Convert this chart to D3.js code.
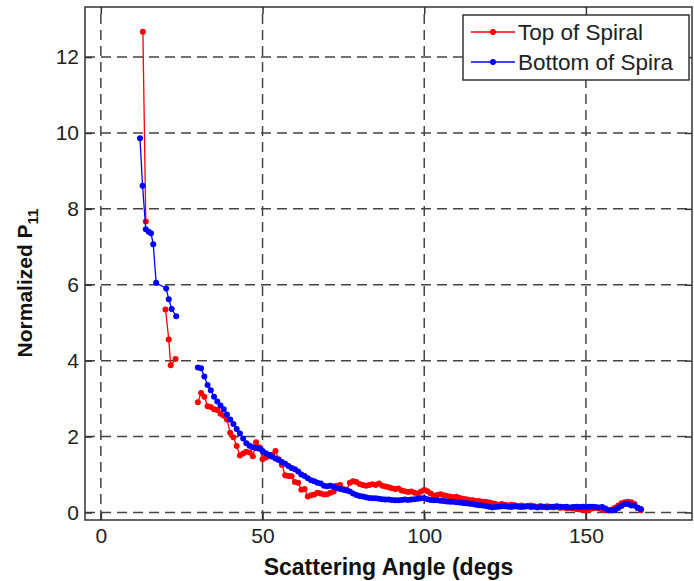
<!DOCTYPE html>
<html>
<head>
<meta charset="utf-8">
<script src="https://cdn.jsdelivr.net/npm/d3@7"></script>
<style>
  html, body { margin: 0; padding: 0; background: #fff; }
  svg { display: block; font-family: "Liberation Sans", Arial, Helvetica, sans-serif; }
</style>
</head>
<body>
<svg id="chart" width="694" height="581"></svg>
<script>
// Normalized P11 phase function versus scattering angle, two positions on the spiral.

// Sparse forward-angle samples (null breaks the line)
const topEarlyAngles    = [13.0, 13.9, null, 20.0, 21.0, 21.6, 23.1, null];
const topEarlyValues    = [12.67, 7.67, null, 5.35, 4.56, 3.88, 4.04, null];
const bottomEarlyAngles = [12.1, 12.9, 13.9, 14.8, 15.5, 16.2, 17.1, 20.2, 21.0, 21.9, 23.3, null];
const bottomEarlyValues = [9.86, 8.61, 7.46, 7.40, 7.36, 7.07, 6.05, 5.90, 5.62, 5.36, 5.17, null];

// Regular 1-degree samples from 30 to 167 degrees
const mainAngles = d3.range(30, 168);
const topValues = [
  2.90, 3.15, 3.05, 2.80, 2.78, 2.72, 2.70, 2.60, 2.55, 2.45,
  2.10, 1.98, 1.75, 1.50, 1.55, 1.60, 1.58, 1.48, 1.85, 1.72,
  1.40, 1.45, 1.48, 1.52, 1.62, 1.40, 1.25, 0.98, 0.96, 0.95,
  0.80, 0.78, 0.60, 0.62, 0.42, 0.45, 0.47, 0.52, 0.50, 0.47,
  0.48, 0.52, 0.55, 0.70, 0.72, 0.62, 0.60, 0.78, 0.82, 0.80,
  0.75, 0.72, 0.70, 0.72, 0.74, 0.72, 0.76, 0.70, 0.68, 0.66,
  0.64, 0.62, 0.63, 0.58, 0.56, 0.54, 0.55, 0.52, 0.50, 0.55,
  0.59, 0.56, 0.50, 0.44, 0.46, 0.48, 0.45, 0.43, 0.42, 0.40,
  0.41, 0.38, 0.36, 0.35, 0.33, 0.32, 0.30, 0.30, 0.28, 0.28,
  0.26, 0.24, 0.22, 0.20, 0.22, 0.20, 0.18, 0.20, 0.19, 0.17,
  0.18, 0.16, 0.17, 0.18, 0.16, 0.15, 0.17, 0.14, 0.16, 0.15,
  0.13, 0.14, 0.12, 0.13, 0.11, 0.12, 0.10, 0.09, 0.08, 0.07,
  0.05, 0.08, 0.10, 0.12, 0.10, 0.08, 0.06, 0.05, 0.08, 0.12,
  0.18, 0.24, 0.27, 0.28, 0.27, 0.22, 0.12, 0.06
];
const bottomValues = [
  3.82, 3.80, 3.58, 3.36, 3.22, 3.05, 2.92, 2.82, 2.72, 2.58,
  2.45, 2.33, 2.20, 2.08, 1.95, 1.82, 1.76, 1.72, 1.70, 1.68,
  1.62, 1.56, 1.52, 1.47, 1.42, 1.38, 1.33, 1.28, 1.22, 1.17,
  1.14, 1.08, 1.00, 0.96, 0.90, 0.85, 0.82, 0.78, 0.76, 0.70,
  0.69, 0.70, 0.68, 0.64, 0.62, 0.60, 0.58, 0.55, 0.50, 0.46,
  0.43, 0.42, 0.40, 0.38, 0.37, 0.37, 0.36, 0.35, 0.34, 0.34,
  0.33, 0.32, 0.32, 0.33, 0.34, 0.33, 0.34, 0.35, 0.36, 0.37,
  0.37, 0.35, 0.33, 0.32, 0.32, 0.31, 0.30, 0.29, 0.28, 0.28,
  0.27, 0.26, 0.25, 0.24, 0.23, 0.22, 0.20, 0.19, 0.18, 0.17,
  0.15, 0.13, 0.14, 0.15, 0.16, 0.16, 0.15, 0.14, 0.16, 0.15,
  0.14, 0.15, 0.16, 0.14, 0.15, 0.13, 0.14, 0.15, 0.13, 0.14,
  0.15, 0.16, 0.15, 0.14, 0.15, 0.13, 0.14, 0.15, 0.14, 0.15,
  0.14, 0.15, 0.15, 0.14, 0.13, 0.14, 0.10, 0.06, 0.05, 0.07,
  0.12, 0.17, 0.22, 0.22, 0.18, 0.18, 0.12, 0.09
];

const xTicks = [0, 50, 100, 150];
const yTicks = [0, 2, 4, 6, 8, 10, 12];
const seriesNames = ["Top of Spiral", "Bottom of Spira"];
const seriesColors = ["#ff0000", "#0000ff"];

const svg = d3.select("#chart");
const W = 694, H = 581;
const box = { left: 85, right: 692, top: 7, bottom: 520 };

const x = d3.scaleLinear().domain([-4.9, 182.8]).range([box.left, box.right]);
const y = d3.scaleLinear().domain([-0.2, 13.32]).range([box.bottom, box.top]);

svg.append("rect").attr("width", W).attr("height", H).attr("fill", "#fff");

// Dashed grid
const grid = svg.append("g").attr("stroke", "#444").attr("stroke-width", 1.5)
  .attr("stroke-dasharray", "10,6").attr("fill", "none");
grid.selectAll("line.v").data(xTicks).join("line")
  .attr("x1", d => x(d)).attr("x2", d => x(d))
  .attr("y1", box.bottom).attr("y2", box.top);
grid.selectAll("line.h").data(yTicks).join("line")
  .attr("y1", d => y(d)).attr("y2", d => y(d))
  .attr("x1", box.left).attr("x2", box.right);

// Series
function toPoints(angles, values) {
  return angles.map((a, i) => ({ a, v: values[i] }));
}
const series = [
  toPoints(topEarlyAngles.concat(mainAngles), topEarlyValues.concat(topValues)),
  toPoints(bottomEarlyAngles.concat(mainAngles), bottomEarlyValues.concat(bottomValues))
];

const line = d3.line()
  .defined(d => d.a !== null && d.v !== null)
  .x(d => x(d.a)).y(d => y(d.v));

series.forEach((pts, i) => {
  const g = svg.append("g");
  g.append("path").datum(pts)
    .attr("d", line).attr("fill", "none")
    .attr("stroke", seriesColors[i]).attr("stroke-width", 1.3);
  g.selectAll("circle").data(pts.filter(d => d.a !== null && d.v !== null)).join("circle")
    .attr("cx", d => x(d.a)).attr("cy", d => y(d.v)).attr("r", 3)
    .attr("fill", seriesColors[i]);
});

// Axes box with inward ticks on all sides
const axisColor = "#333";
const axes = svg.append("g");
axes.append("rect")
  .attr("x", box.left).attr("y", box.top)
  .attr("width", box.right - box.left).attr("height", box.bottom - box.top)
  .attr("fill", "none").attr("stroke", axisColor).attr("stroke-width", 1.5);

const bottomAxis = d3.axisBottom(x).tickValues(xTicks).tickSizeInner(-7).tickSizeOuter(0).tickPadding(8);
const leftAxis = d3.axisLeft(y).tickValues(yTicks).tickSizeInner(-7).tickSizeOuter(0).tickPadding(6);
const topAxis = d3.axisTop(x).tickValues(xTicks).tickSizeInner(-7).tickSizeOuter(0).tickFormat("");
const rightAxis = d3.axisRight(y).tickValues(yTicks).tickSizeInner(-7).tickSizeOuter(0).tickFormat("");

function styleAxis(g) {
  g.select(".domain").remove();
  g.selectAll(".tick line").attr("stroke", axisColor).attr("stroke-width", 1.5);
  g.selectAll(".tick text").attr("fill", "#222").attr("font-size", 21)
    .attr("font-family", "'Liberation Sans', Arial, Helvetica, sans-serif");
}
axes.append("g").attr("transform", `translate(0,${box.bottom})`).call(bottomAxis).call(styleAxis);
axes.append("g").attr("transform", `translate(${box.left},0)`).call(leftAxis).call(styleAxis);
axes.append("g").attr("transform", `translate(0,${box.top})`).call(topAxis).call(styleAxis);
axes.append("g").attr("transform", `translate(${box.right},0)`).call(rightAxis).call(styleAxis);

// Axis titles
svg.append("text")
  .attr("x", (box.left + box.right) / 2).attr("y", 575)
  .attr("text-anchor", "middle").attr("font-weight", "bold").attr("font-size", 23)
  .attr("fill", "#111")
  .text("Scattering Angle (degs");

const yTitle = svg.append("text")
  .attr("transform", "translate(32,283) rotate(-90)")
  .attr("text-anchor", "middle").attr("font-weight", "bold").attr("font-size", 21)
  .attr("fill", "#111");
yTitle.append("tspan").text("Normalized P");
yTitle.append("tspan").attr("dy", 6).attr("font-size", 15).text("11");

// Legend
const legend = svg.append("g");
legend.append("rect")
  .attr("x", 463).attr("y", 15).attr("width", 226).attr("height", 65)
  .attr("fill", "#fff").attr("stroke", axisColor).attr("stroke-width", 1.5);
seriesNames.forEach((name, i) => {
  const cy = 32 + i * 30;
  legend.append("line")
    .attr("x1", 471).attr("x2", 515).attr("y1", cy).attr("y2", cy)
    .attr("stroke", seriesColors[i]).attr("stroke-width", 1.3);
  legend.append("circle").attr("cx", 493).attr("cy", cy).attr("r", 3).attr("fill", seriesColors[i]);
  legend.append("text")
    .attr("x", 518).attr("y", cy + 8)
    .attr("font-size", 22.5).attr("fill", "#222")
    .text(name);
});
</script>
</body>
</html>
